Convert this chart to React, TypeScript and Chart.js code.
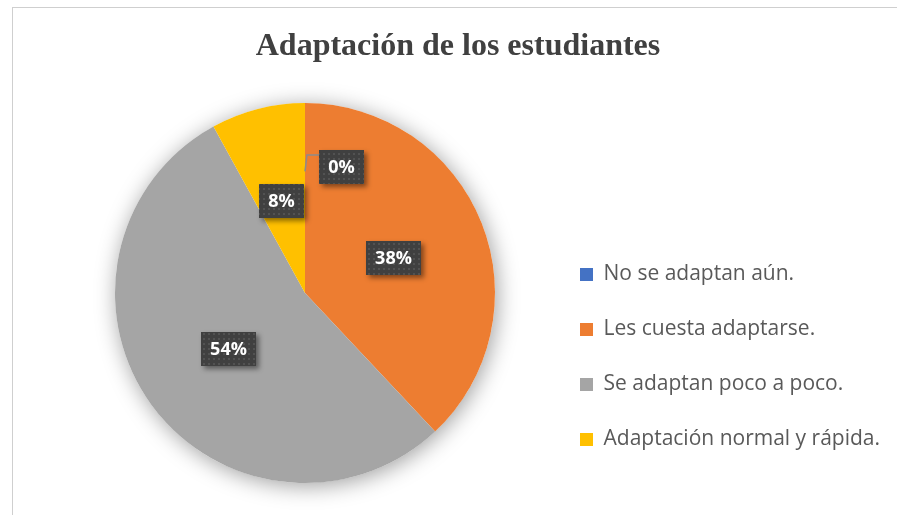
import { useEffect, useRef } from "react";
import { Chart, registerables } from "chart.js";

Chart.register(...registerables);

// ---- data ----
const TITLE = "Adaptación de los estudiantes";
const categories = [
  "No se adaptan aún.",
  "Les cuesta adaptarse.",
  "Se adaptan poco a poco.",
  "Adaptación normal y rápida.",
];
const percentages = [0, 38, 54, 8];
const sliceColors = ["#4472C4", "#ED7D31", "#A5A5A5", "#FFC000"];

const CANVAS_W = 893;
const CANVAS_H = 508;

function makePattern(ctx: CanvasRenderingContext2D) {
  const c = document.createElement("canvas");
  c.width = 5;
  c.height = 5;
  const p = c.getContext("2d")!;
  p.fillStyle = "#404040";
  p.fillRect(0, 0, 5, 5);
  p.fillStyle = "#525252";
  p.fillRect(1, 1, 2, 2);
  return ctx.createPattern(c, "repeat") || "#404040";
}

const framePlugin = {
  id: "frame",
  beforeDraw(chart: any) {
    const ctx = chart.ctx;
    ctx.save();
    ctx.fillStyle = "#ffffff";
    ctx.fillRect(0, 0, chart.width, chart.height);
    ctx.strokeStyle = "#cfcfcf";
    ctx.lineWidth = 1;
    ctx.strokeRect(0.5, 0.5, chart.width + 10, chart.height + 10);
    ctx.restore();
  },
};

const pieShadowPlugin = {
  id: "pieShadow",
  beforeDatasetsDraw(chart: any) {
    const meta = chart.getDatasetMeta(0);
    const arc = meta.data[0];
    if (!arc) return;
    const { x, y, outerRadius } = arc.getProps(["x", "y", "outerRadius"], true);
    const ctx = chart.ctx;
    ctx.save();
    ctx.shadowColor = "rgba(0,0,0,0.38)";
    ctx.shadowBlur = 22;
    ctx.shadowOffsetX = 2;
    ctx.shadowOffsetY = 3;
    ctx.fillStyle = "#ffffff";
    ctx.beginPath();
    ctx.arc(x, y, outerRadius, 0, Math.PI * 2);
    ctx.fill();
    ctx.restore();
  },
};

const dataLabelPlugin = {
  id: "boxLabels",
  afterDatasetsDraw(chart: any) {
    const ctx = chart.ctx;
    const meta = chart.getDatasetMeta(0);
    const pattern = makePattern(ctx);
    const values = chart.data.datasets[0].data as number[];
    ctx.save();
    ctx.font = "bold 18px 'Open Sans'";
    meta.data.forEach((arc: any, i: number) => {
      const { x, y, startAngle, endAngle, outerRadius } = arc.getProps(
        ["x", "y", "startAngle", "endAngle", "outerRadius"],
        true
      );
      const mid = (startAngle + endAngle) / 2;
      let cx = x + Math.cos(mid) * outerRadius * 0.5;
      let cy = y + Math.sin(mid) * outerRadius * 0.5;
      const text = values[i] + "%";
      const tw = ctx.measureText(text).width;
      const bw = Math.round(tw + 18);
      const bh = 34;
      const zero = values[i] === 0;
      let anchor: [number, number] | null = null;
      if (zero) {
        anchor = [x + Math.cos(mid) * outerRadius * 0.64, y + Math.sin(mid) * outerRadius * 0.64];
        cx += 36;
        cy -= 31;
      }
      const bx = Math.round(cx - bw / 2);
      const by = Math.round(cy - bh / 2);
      if (anchor) {
        ctx.save();
        ctx.strokeStyle = "#8c8c8c";
        ctx.lineWidth = 1.5;
        ctx.beginPath();
        ctx.moveTo(anchor[0], anchor[1]);
        ctx.lineTo(anchor[0] + 2, by + 5);
        ctx.lineTo(bx, by + 5);
        ctx.stroke();
        ctx.restore();
      }
      ctx.save();
      ctx.shadowColor = "rgba(0,0,0,0.45)";
      ctx.shadowBlur = 5;
      ctx.shadowOffsetX = 3;
      ctx.shadowOffsetY = 3;
      ctx.fillStyle = "#404040";
      ctx.fillRect(bx, by, bw, bh);
      ctx.restore();
      ctx.fillStyle = pattern;
      ctx.fillRect(bx, by, bw, bh);
      ctx.fillStyle = "#ffffff";
      ctx.textAlign = "center";
      ctx.textBaseline = "middle";
      ctx.fillText(text, bx + bw / 2, by + bh / 2 + 1);
    });
    ctx.restore();
  },
};

export default function App() {
  const ref = useRef<HTMLCanvasElement | null>(null);
  useEffect(() => {
    if (!ref.current) return;
    const chart = new Chart(ref.current, {
      type: "pie",
      data: {
        labels: categories,
        datasets: [
          {
            data: percentages,
            backgroundColor: sliceColors,
            borderWidth: 0,
            radius: 190,
          } as any,
        ],
      },
      options: {
        responsive: false,
        animation: false,
        events: [],
        layout: { padding: { top: 0, bottom: 31, left: 20, right: 21 } },
        plugins: {
          title: {
            display: true,
            text: TITLE,
            color: "#404040",
            font: { family: "'Liberation Serif', 'Times New Roman', serif", size: 32, weight: "bold" },
            padding: { top: 20.8, bottom: 35.8 },
          },
          // invisible spacer on the left so the pie sits left of centre while the title stays centred
          subtitle: {
            display: true,
            position: "left",
            text: " ",
            color: "rgba(0,0,0,0)",
            font: { size: 10 },
            padding: { top: 10, bottom: 10 },
          },
          legend: {
            display: true,
            position: "right",
            align: "end",
            maxWidth: 338,
            labels: {
              boxWidth: 13,
              boxHeight: 13,
              padding: 34,
              color: "#595959",
              font: { family: "'Open Sans', sans-serif", size: 21 },
            },
          },
          tooltip: { enabled: false },
        },
      },
      plugins: [framePlugin, pieShadowPlugin, dataLabelPlugin],
    });
    return () => chart.destroy();
  }, []);
  return (
    <div
      style={{
        position: "fixed",
        left: 0,
        top: 0,
        width: 897,
        height: 515,
        overflow: "hidden",
        background: "#ffffff",
      }}
    >
      <canvas
        ref={ref}
        width={CANVAS_W}
        height={CANVAS_H}
        style={{ position: "absolute", left: 12, top: 7 }}
      />
    </div>
  );
}
